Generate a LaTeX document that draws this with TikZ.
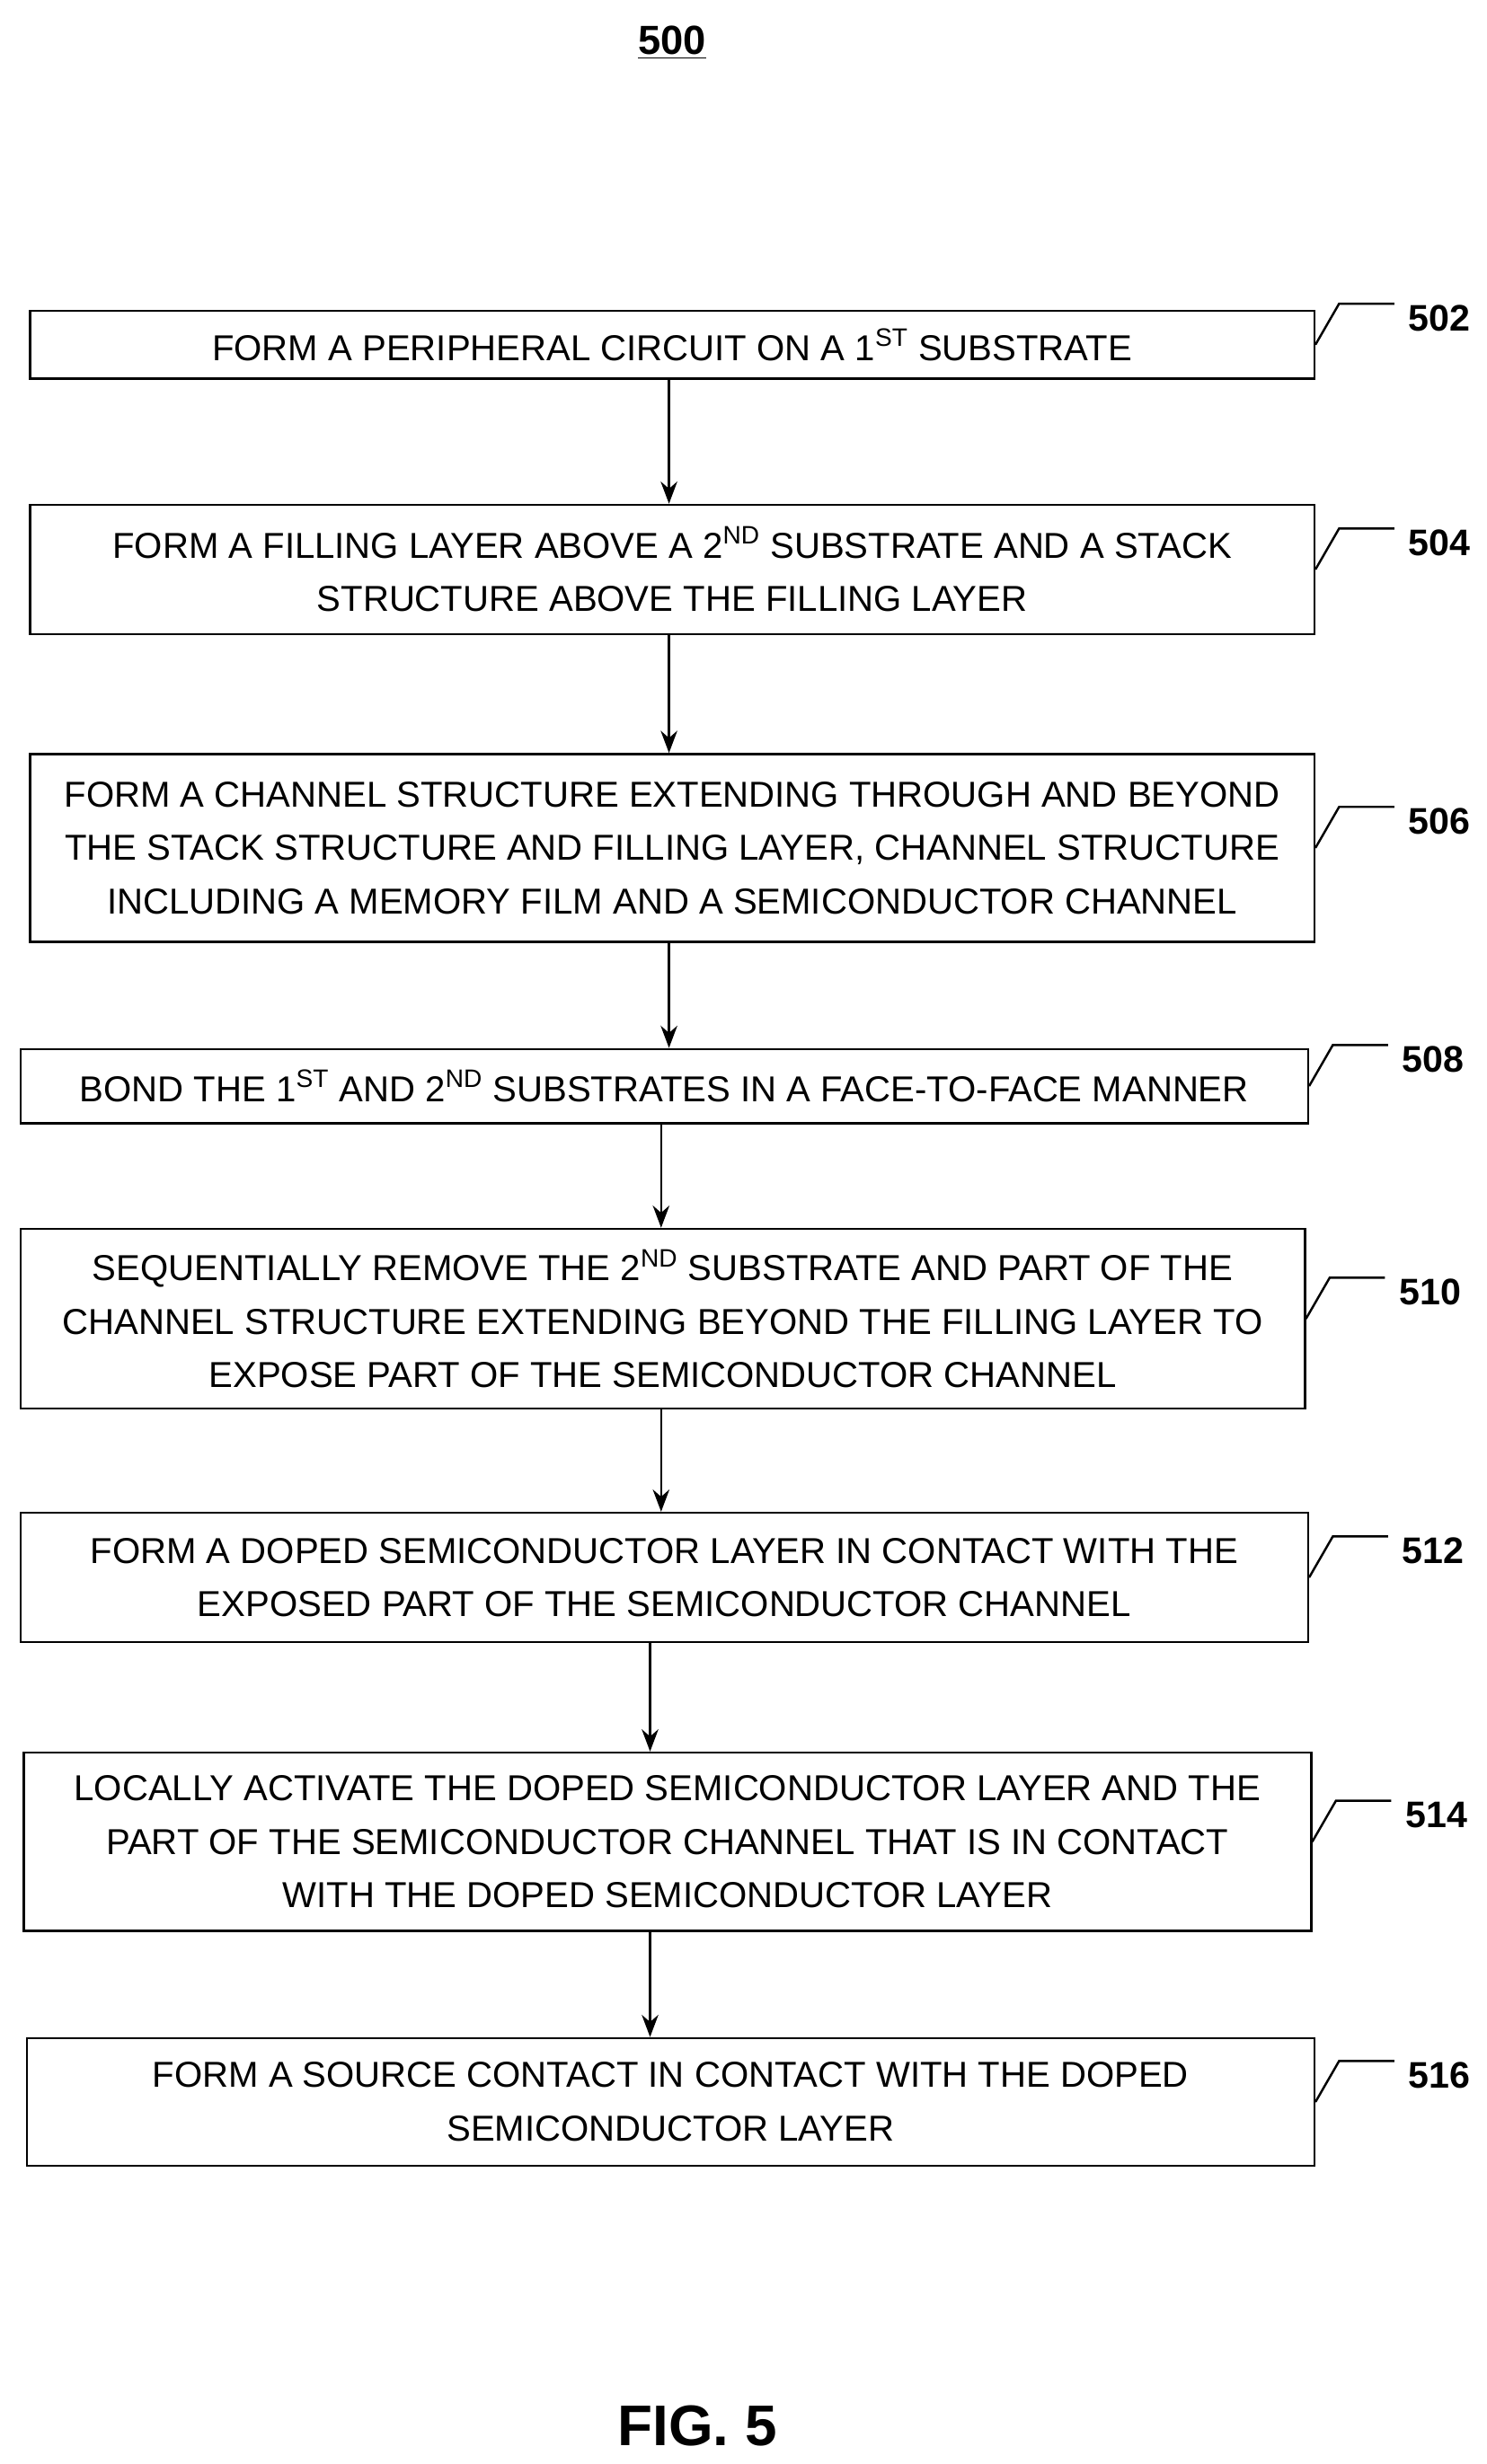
\documentclass[tikz,border=0pt]{standalone}
\usepackage{fontspec}
\setmainfont{Liberation Sans}
\usetikzlibrary{arrows.meta}
\usetikzlibrary{calc}

\tikzset{
	stepnode/.style={draw, line width=1.2pt, align=center, inner sep=0pt, font=\fontsize{19.5}{29}\selectfont},
	flow/.style={-{Stealth[length=12pt,width=9pt]}, line width=1.2pt},
	lead/.style={line width=1.2pt},
	tag/.style={font=\fontsize{20}{25}\selectfont\bfseries, anchor=west}
}
% box with leader line and reference numeral
\newcommand{\stepbox}[7]{%
	\node[stepnode, minimum width=#4*0.03cm, minimum height=#5*0.03cm] (#1) at (#2,#3) {#6};
	\draw[lead] (#1.east) -- ++(15,-26) coordinate (#1t) -- ++(35,0);
	\node[tag] (#1l) at ($(#1t)+(40,9)$) {#7};
}

\begin{document}
\begin{tikzpicture}[x=0.03cm, y=-0.03cm]
	\useasboundingbox (0,0) rectangle (942,1562);
	\node[font=\fontsize{22}{27}\selectfont\bfseries] (title) at (426,27) {\underline{500}};
	\stepbox{s502}{426}{218.5}{814}{43}{FORM A PERIPHERAL CIRCUIT ON A 1\textsuperscript{ST} SUBSTRATE}{502}
	\stepbox{s504}{426}{361}{814}{82}{FORM A FILLING LAYER ABOVE A 2\textsuperscript{ND} SUBSTRATE AND A STACK\\STRUCTURE ABOVE THE FILLING LAYER}{504}
	\stepbox{s506}{426}{537.5}{814}{119}{FORM A CHANNEL STRUCTURE EXTENDING THROUGH AND BEYOND\\THE STACK STRUCTURE AND FILLING LAYER, CHANNEL STRUCTURE\\INCLUDING A MEMORY FILM AND A SEMICONDUCTOR CHANNEL}{506}
	\stepbox{s508}{421}{688.5}{816}{47}{BOND THE 1\textsuperscript{ST} AND 2\textsuperscript{ND} SUBSTRATES IN A FACE-TO-FACE MANNER}{508}
	\stepbox{s510}{420}{836}{814}{114}{SEQUENTIALLY REMOVE THE 2\textsuperscript{ND} SUBSTRATE AND PART OF THE\\CHANNEL STRUCTURE EXTENDING BEYOND THE FILLING LAYER TO\\EXPOSE PART OF THE SEMICONDUCTOR CHANNEL}{510}
	\stepbox{s512}{421}{1000}{816}{82}{FORM A DOPED SEMICONDUCTOR LAYER IN CONTACT WITH THE\\EXPOSED PART OF THE SEMICONDUCTOR CHANNEL}{512}
	\stepbox{s514}{423}{1167.5}{816}{113}{LOCALLY ACTIVATE THE DOPED SEMICONDUCTOR LAYER AND THE\\PART OF THE SEMICONDUCTOR CHANNEL THAT IS IN CONTACT\\WITH THE DOPED SEMICONDUCTOR LAYER}{514}
	\stepbox{s516}{425}{1332.5}{816}{81}{FORM A SOURCE CONTACT IN CONTACT WITH THE DOPED\\SEMICONDUCTOR LAYER}{516}
	\coordinate (xa) at (424,0);
	\coordinate (xb) at (419,0);
	\coordinate (xc) at (412,0);
	\draw[flow] (s502.south -| xa) -- (s504.north -| xa);
	\draw[flow] (s504.south -| xa) -- (s506.north -| xa);
	\draw[flow] (s506.south -| xa) -- (s508.north -| xa);
	\draw[flow] (s508.south -| xb) -- (s510.north -| xb);
	\draw[flow] (s510.south -| xb) -- (s512.north -| xb);
	\draw[flow] (s512.south -| xc) -- (s514.north -| xc);
	\draw[flow] (s514.south -| xc) -- (s516.north -| xc);
	\node[font=\fontsize{31}{36}\selectfont\bfseries] (fig) at (442,1538) {FIG. 5};
\end{tikzpicture}
\end{document}
